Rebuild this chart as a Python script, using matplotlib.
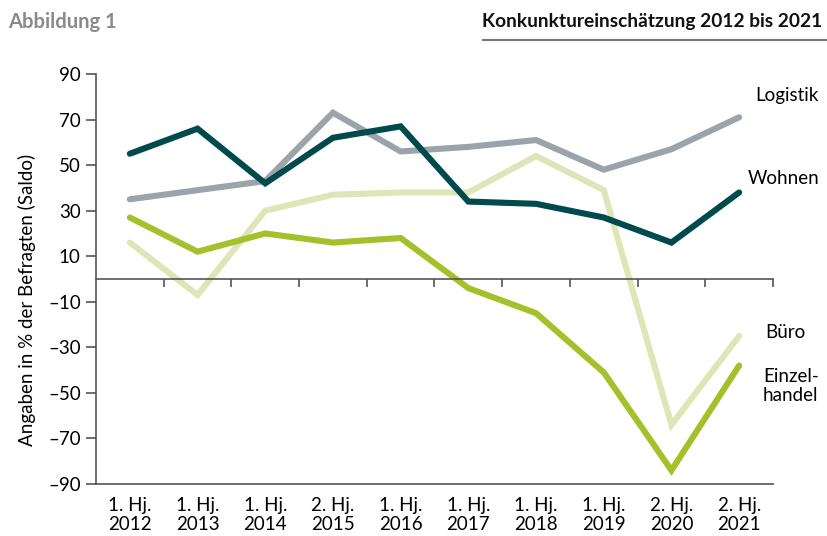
import matplotlib
matplotlib.use("Agg")
import matplotlib.pyplot as plt
from matplotlib.ticker import FixedLocator

plt.rcParams['font.family'] = ['Lato', 'DejaVu Sans']

categories = ["1. Hj.\n2012", "1. Hj.\n2013", "1. Hj.\n2014", "2. Hj.\n2015", "1. Hj.\n2016",
              "1. Hj.\n2017", "1. Hj.\n2018", "1. Hj.\n2019", "2. Hj.\n2020", "2. Hj.\n2021"]
wohnen = [55, 66, 42, 62, 67, 34, 33, 27, 16, 38]
logistik = [35, 39, 43, 73, 56, 58, 61, 48, 57, 71]
buero = [16, -7, 30, 37, 38, 38, 54, 39, -64, -25]
einzelhandel = [27, 12, 20, 16, 18, -4, -15, -41, -84, -38]
yticks = [-90, -70, -50, -30, -10, 10, 30, 50, 70, 90]

W, H = 828, 536
fig = plt.figure(figsize=(W / 100, H / 100), dpi=100)
ax = fig.add_axes([96 / W, (H - 484) / H, (773 - 96) / W, (484 - 74) / H])

x = list(range(len(categories)))
lw = 4.4
ax.plot(x, buero, color="#dde6b6", lw=lw, solid_capstyle="round", solid_joinstyle="miter", zorder=2)
ax.plot(x, einzelhandel, color="#a3c12a", lw=lw, solid_capstyle="round", solid_joinstyle="miter", zorder=3)
ax.plot(x, logistik, color="#9aa4aa", lw=lw, solid_capstyle="round", solid_joinstyle="miter", zorder=4)
ax.plot(x, wohnen, color="#004a4e", lw=lw, solid_capstyle="round", solid_joinstyle="miter", zorder=5)

ax.set_xlim(-0.5, len(categories) - 0.5)
ax.set_ylim(-90, 90)

axis_col = "#555555"
ax.spines["right"].set_visible(False)
ax.spines["top"].set_position(("data", 0))
for s in ["top", "left", "bottom"]:
    ax.spines[s].set_color(axis_col)
    ax.spines[s].set_linewidth(1.2)
ax.spines["top"].set_zorder(6)

ax.set_xticks(x)
ax.set_xticklabels(categories, fontsize=13.5, linespacing=1.2)
ax.xaxis.set_minor_locator(FixedLocator([i + 0.5 for i in x]))
ax.tick_params(axis="x", which="major", length=0, pad=9, top=False, bottom=True)
ax.tick_params(axis="x", which="minor", top=True, bottom=False, direction="in",
               length=6, width=1.2, color=axis_col)

ax.set_yticks(yticks)
ax.set_yticklabels([str(v).replace("-", "\u2013") for v in yticks], fontsize=13.5)
ax.tick_params(axis="y", length=7, width=1.2, color=axis_col, pad=4)

fig.text(27 / W, 1 - 300 / H, "Angaben in % der Befragten (Saldo)", rotation=90,
         ha="center", va="center", fontsize=13.5)

# series labels
fig.text(755 / W, 1 - 95 / H, "Logistik", ha="left", va="center", fontsize=13.5)
fig.text(748 / W, 1 - 178 / H, "Wohnen", ha="left", va="center", fontsize=13.5)
fig.text(765 / W, 1 - 332 / H, "Büro", ha="left", va="center", fontsize=13.5)
fig.text(763 / W, 1 - 386 / H, "Einzel-\nhandel", ha="left", va="center", fontsize=13.5,
         linespacing=1.2)

# header
fig.text(8 / W, 1 - 22 / H, "Abbildung 1", ha="left", va="center", fontsize=14.5,
         fontweight="bold", color="#8a8a8a")
fig.text(822 / W, 1 - 22 / H, "Konkunktureinschätzung 2012 bis 2021", ha="right", va="center",
         fontsize=13.8, fontweight="bold", color="#111111")
fig.add_artist(plt.Line2D([483 / W, 1.0], [1 - 40 / H, 1 - 40 / H], color="#777777", lw=1.5))

fig.savefig("out.png", dpi=100)
